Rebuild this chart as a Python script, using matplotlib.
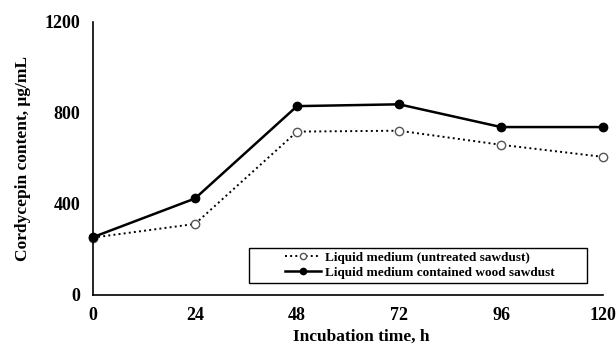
import matplotlib
matplotlib.use('Agg')
import matplotlib.pyplot as plt
from matplotlib.patches import Rectangle

# 数据
hours = [0, 24, 48, 72, 96, 120]
untreated = [252, 312, 718, 722, 660, 607]
sawdust = [254, 424, 830, 838, 738, 738]
label_untreated = 'Liquid medium (untreated sawdust)'
label_sawdust = 'Liquid medium contained wood sawdust'

plt.rcParams['font.family'] = ['Liberation Serif', 'DejaVu Serif']
plt.rcParams['font.weight'] = 'bold'

fig = plt.figure(figsize=(6.16, 3.49), dpi=100)
ax = fig.add_axes([0.151, 0.155, 0.828, 0.782])

ax.plot(hours, untreated, linestyle=':', color='black', linewidth=1.4,
        marker='o', markersize=6, markerfacecolor='white',
        markeredgecolor='#555555', markeredgewidth=1.0, label=label_untreated,
        clip_on=False)
ax.plot(hours, sawdust, linestyle='-', color='black', linewidth=1.8,
        marker='o', markersize=6, markerfacecolor='black',
        markeredgecolor='black', label=label_sawdust, clip_on=False)

ax.set_xlim(0, 120)
ax.set_ylim(0, 1200)
ax.set_xticks(hours)
ax.set_yticks([0, 400, 800, 1200])
ax.tick_params(length=0, labelsize=13, pad=9)
for lab in ax.get_xticklabels() + ax.get_yticklabels():
    lab.set_fontweight('bold')

ax.spines['top'].set_visible(False)
ax.spines['right'].set_visible(False)
ax.spines['left'].set_linewidth(1.2)
ax.spines['bottom'].set_linewidth(1.2)

ax.set_xlabel('Incubation time, h', fontsize=12.5, fontweight='bold')
ax.xaxis.set_label_coords(0.525, -0.125)
ax.set_ylabel('Cordycepin content, μg/mL', fontsize=12.5, fontweight='bold', labelpad=10)

# 图例: 外框单独画, 和Excel一样留宽边
ax.add_patch(Rectangle((0.306, 0.044), 0.663, 0.128, transform=ax.transAxes,
                       fill=True, facecolor='white', edgecolor='black',
                       linewidth=1.0, zorder=4))
leg = ax.legend(loc='center', bbox_to_anchor=(0.641, 0.108),
                frameon=False, handlelength=2.7, handletextpad=0.3,
                borderpad=0, labelspacing=0.2, markerscale=0.75,
                prop={'weight': 'bold', 'size': 9.5})
leg.set_zorder(5)

fig.savefig('out.png', dpi=100)
